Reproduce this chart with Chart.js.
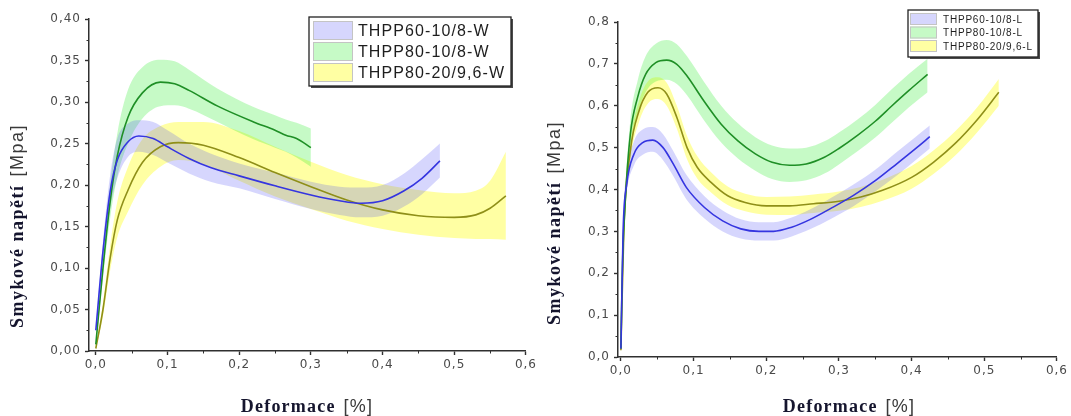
<!DOCTYPE html>
<html>
<head>
<meta charset="utf-8">
<script src="https://cdn.jsdelivr.net/npm/chart.js@4.4.1/dist/chart.umd.min.js"></script>
<style>
  html, body { margin: 0; padding: 0; background: #fff; }
  body { width: 1071px; height: 416px; position: relative; overflow: hidden; }
  canvas { position: absolute; top: 0; }
  #chartW { left: 0; }
  #chartL { left: 530px; }
</style>
</head>
<body>
<canvas id="chartW" width="540" height="416"></canvas>
<canvas id="chartL" width="541" height="416"></canvas>
<script>
// ---- left panel: W samples ----
const W_LABELS = ['THPP60-10/8-W', 'THPP80-10/8-W', 'THPP80-20/9,6-W'];

const W_BLUE_X     = [0, 0.01, 0.02, 0.03, 0.045, 0.06, 0.08, 0.1, 0.13, 0.16, 0.2, 0.25, 0.3, 0.34, 0.37, 0.4, 0.43, 0.455, 0.48];
const W_BLUE_MEAN  = [0.025, 0.12, 0.192, 0.23, 0.252, 0.259, 0.256, 0.246, 0.232, 0.221, 0.211, 0.199, 0.188, 0.181, 0.178, 0.181, 0.193, 0.208, 0.229];
const W_BLUE_UPPER = [0.028, 0.132, 0.212, 0.256, 0.274, 0.278, 0.276, 0.266, 0.25, 0.238, 0.226, 0.215, 0.204, 0.198, 0.197, 0.2, 0.214, 0.231, 0.25];
const W_BLUE_LOWER = [0.022, 0.108, 0.172, 0.208, 0.234, 0.24, 0.236, 0.227, 0.214, 0.204, 0.196, 0.183, 0.171, 0.164, 0.161, 0.163, 0.174, 0.189, 0.209];

const W_GREEN_X     = [0, 0.01, 0.02, 0.03, 0.045, 0.065, 0.09, 0.11, 0.13, 0.17, 0.22, 0.25, 0.265, 0.28, 0.3];
const W_GREEN_MEAN  = [0.008, 0.1, 0.18, 0.235, 0.282, 0.311, 0.324, 0.322, 0.314, 0.295, 0.276, 0.266, 0.26, 0.256, 0.245];
const W_GREEN_UPPER = [0.01, 0.112, 0.2, 0.262, 0.315, 0.342, 0.351, 0.349, 0.339, 0.316, 0.294, 0.284, 0.279, 0.275, 0.268];
const W_GREEN_LOWER = [0.006, 0.088, 0.16, 0.21, 0.25, 0.28, 0.295, 0.296, 0.292, 0.276, 0.255, 0.245, 0.24, 0.233, 0.222];

const W_YELLOW_X     = [0, 0.01, 0.02, 0.03, 0.045, 0.065, 0.09, 0.115, 0.15, 0.2, 0.25, 0.3, 0.35, 0.4, 0.45, 0.5, 0.53, 0.55, 0.572];
const W_YELLOW_MEAN  = [0.003, 0.05, 0.112, 0.158, 0.194, 0.227, 0.246, 0.251, 0.248, 0.233, 0.215, 0.198, 0.182, 0.17, 0.163, 0.161, 0.164, 0.172, 0.187];
const W_YELLOW_UPPER = [0.004, 0.058, 0.127, 0.18, 0.222, 0.255, 0.271, 0.276, 0.276, 0.265, 0.246, 0.228, 0.212, 0.201, 0.194, 0.19, 0.193, 0.205, 0.24];
const W_YELLOW_LOWER = [0.002, 0.042, 0.097, 0.137, 0.168, 0.2, 0.222, 0.23, 0.225, 0.205, 0.186, 0.171, 0.157, 0.147, 0.14, 0.136, 0.135, 0.135, 0.134];

// ---- right panel: L samples ----
const L_LABELS = ['THPP60-10/8-L', 'THPP80-10/8-L', 'THPP80-20/9,6-L'];

const L_BLUE_X     = [0, 0.003, 0.008, 0.018, 0.03, 0.044, 0.058, 0.072, 0.09, 0.115, 0.14, 0.165, 0.19, 0.21, 0.235, 0.26, 0.29, 0.32, 0.35, 0.38, 0.405, 0.425];
const L_BLUE_MEAN  = [0.02, 0.3, 0.413, 0.485, 0.512, 0.518, 0.5, 0.461, 0.405, 0.357, 0.325, 0.306, 0.3, 0.3, 0.31, 0.328, 0.356, 0.386, 0.421, 0.462, 0.497, 0.526];
const L_BLUE_UPPER = [0.025, 0.32, 0.44, 0.515, 0.543, 0.549, 0.532, 0.492, 0.435, 0.384, 0.35, 0.329, 0.322, 0.322, 0.333, 0.352, 0.381, 0.412, 0.447, 0.49, 0.525, 0.553];
const L_BLUE_LOWER = [0.015, 0.28, 0.39, 0.458, 0.483, 0.49, 0.47, 0.432, 0.377, 0.331, 0.3, 0.283, 0.278, 0.278, 0.288, 0.305, 0.331, 0.36, 0.395, 0.434, 0.469, 0.498];

const L_GREEN_X     = [0, 0.002, 0.006, 0.013, 0.023, 0.034, 0.048, 0.063, 0.077, 0.091, 0.114, 0.138, 0.161, 0.185, 0.208, 0.232, 0.255, 0.28, 0.3, 0.326, 0.35, 0.373, 0.396, 0.422];
const L_GREEN_MEAN  = [0.02, 0.21, 0.373, 0.532, 0.62, 0.675, 0.703, 0.709, 0.699, 0.671, 0.612, 0.556, 0.516, 0.485, 0.465, 0.458, 0.461, 0.477, 0.498, 0.53, 0.563, 0.6, 0.636, 0.675];
const L_GREEN_UPPER = [0.025, 0.23, 0.4, 0.565, 0.66, 0.718, 0.748, 0.757, 0.747, 0.718, 0.658, 0.6, 0.558, 0.525, 0.505, 0.498, 0.5, 0.515, 0.536, 0.568, 0.602, 0.64, 0.676, 0.712];
const L_GREEN_LOWER = [0.015, 0.19, 0.345, 0.5, 0.58, 0.632, 0.658, 0.662, 0.652, 0.625, 0.566, 0.512, 0.474, 0.445, 0.425, 0.418, 0.422, 0.438, 0.46, 0.492, 0.524, 0.56, 0.596, 0.632];

const L_YELLOW_X     = [0, 0.004, 0.013, 0.025, 0.037, 0.051, 0.063, 0.077, 0.091, 0.105, 0.124, 0.147, 0.171, 0.2, 0.232, 0.265, 0.3, 0.33, 0.36, 0.4, 0.43, 0.46, 0.49, 0.52];
const L_YELLOW_MEAN  = [0.016, 0.3, 0.493, 0.588, 0.632, 0.643, 0.628, 0.572, 0.5, 0.453, 0.417, 0.385, 0.369, 0.361, 0.361, 0.366, 0.372, 0.382, 0.398, 0.429, 0.465, 0.51, 0.566, 0.632];
const L_YELLOW_UPPER = [0.02, 0.32, 0.515, 0.612, 0.658, 0.668, 0.655, 0.6, 0.528, 0.48, 0.441, 0.407, 0.39, 0.382, 0.383, 0.388, 0.395, 0.406, 0.423, 0.456, 0.493, 0.539, 0.596, 0.664];
const L_YELLOW_LOWER = [0.012, 0.28, 0.47, 0.562, 0.605, 0.616, 0.6, 0.545, 0.472, 0.426, 0.393, 0.363, 0.348, 0.34, 0.339, 0.344, 0.349, 0.358, 0.373, 0.402, 0.437, 0.481, 0.536, 0.6];

// colours
const LINE_COLORS = ['#3535e0', '#1f8f26', '#8f8f18'];
const BAND_COLORS = ['rgba(70, 70, 245, 0.22)', 'rgba(45, 235, 45, 0.27)', 'rgba(255, 255, 0, 0.36)'];

const TICK_FONT = { family: 'DejaVu Sans', size: 12 };
const AXIS_COLOR = '#303030';

function isMajor(v, step) {
    return Math.abs(v / step - Math.round(v / step)) < 1e-6;
}

// upper + lower bound filled between, then the mean line on top
function bandSets(label, xs, mean, upper, lower, i) {
    const pts = arr => xs.map((x, k) => ({ x: x, y: arr[k] }));
    return [
        { data: pts(upper), fill: '+1', backgroundColor: BAND_COLORS[i], borderWidth: 0, pointRadius: 0 },
        { data: pts(lower), fill: false, borderWidth: 0, pointRadius: 0 },
        { label: label, data: pts(mean), borderColor: LINE_COLORS[i], borderWidth: 1.6,
          pointRadius: 0, fill: false, bandColor: BAND_COLORS[i] }
    ];
}

function makeScales(o) {
    // minor ticks are hidden here and drawn shorter by the minorTicks plugin
    const tickColY = c => (c.tick && isMajor(c.tick.value, o.major) ? AXIS_COLOR : 'rgba(0,0,0,0)');
    const tickColX = c => (c.tick && isMajor(c.tick.value, 0.1) ? AXIS_COLOR : 'rgba(0,0,0,0)');
    return {
        x: {
            type: 'linear', min: o.xMin, max: 0.6,
            ticks: {
                stepSize: 0.05, includeBounds: false, autoSkip: false, maxRotation: 0,
                padding: 3, color: '#4a4a4a', font: TICK_FONT,
                callback: v => isMajor(v, 0.1) ? v.toFixed(1).replace('.', ',') : ''
            },
            grid: { drawOnChartArea: false, tickLength: 4, tickColor: tickColX, tickWidth: 1.4 },
            border: { color: AXIS_COLOR, width: 1.5 },
            afterFit: s => { s.height = o.xH; }
        },
        y: {
            type: 'linear', min: 0, max: o.yMax,
            ticks: {
                stepSize: o.major / 2, includeBounds: false, autoSkip: false,
                padding: 4, color: '#4a4a4a', font: TICK_FONT,
                callback: v => isMajor(v, o.major) ? v.toFixed(o.dec).replace('.', ',') : ''
            },
            grid: { drawOnChartArea: false, tickLength: 4, tickColor: tickColY, tickWidth: 1.4 },
            border: { color: AXIS_COLOR, width: 1.5 },
            afterFit: s => { s.width = o.yW; }
        }
    };
}

// spaced-out text like the original export
const spacing = {
    id: 'spacing',
    beforeLayout(chart) { chart.ctx.letterSpacing = '1px'; },
    beforeDraw(chart) { chart.ctx.letterSpacing = '1px'; }
};

const minorTicks = {
    id: 'minorTicks',
    afterDraw(chart, args, o) {
        const ctx = chart.ctx;
        const xs = chart.scales.x, ys = chart.scales.y;
        const area = chart.chartArea;
        ctx.save();
        ctx.strokeStyle = AXIS_COLOR;
        ctx.lineWidth = 1;
        ctx.beginPath();
        xs.ticks.forEach(t => {
            if (isMajor(t.value, 0.1)) return;
            const px = Math.round(xs.getPixelForValue(t.value)) + 0.5;
            ctx.moveTo(px, area.bottom);
            ctx.lineTo(px, area.bottom + 2.5);
        });
        ys.ticks.forEach(t => {
            if (isMajor(t.value, o.major)) return;
            const py = Math.round(ys.getPixelForValue(t.value)) + 0.5;
            ctx.moveTo(area.left, py);
            ctx.lineTo(area.left - 2.5, py);
        });
        ctx.stroke();
        ctx.restore();
    }
};

function drawParts(ctx, parts, cx, cy, angle) {
    ctx.save();
    ctx.translate(cx, cy);
    ctx.rotate(angle);
    ctx.textBaseline = 'middle';
    ctx.textAlign = 'left';
    const widths = parts.map(p => {
        ctx.font = p.font;
        ctx.letterSpacing = p.spacing;
        return ctx.measureText(p.text).width;
    });
    const gap = 8;
    const total = widths.reduce((a, b) => a + b, 0) + gap * (parts.length - 1);
    let x = -total / 2;
    parts.forEach((p, i) => {
        ctx.font = p.font;
        ctx.letterSpacing = p.spacing;
        ctx.fillStyle = p.color;
        ctx.fillText(p.text, x, 0);
        x += widths[i] + gap;
    });
    ctx.restore();
}

const TITLE_BOLD = 'bold 18px "Liberation Serif"';
const TITLE_UNIT = '18px "Liberation Sans"';

const axisTitles = {
    id: 'axisTitles',
    afterDraw(chart, args, opts) {
        const ctx = chart.ctx;
        drawParts(ctx, [
            { text: 'Deformace', font: TITLE_BOLD, color: '#15152e', spacing: '1.2px' },
            { text: '[%]', font: TITLE_UNIT, color: '#3a3a3a', spacing: '1.2px' }
        ], opts.xCx, opts.xCy, 0);
        drawParts(ctx, [
            { text: 'Smykové napětí', font: TITLE_BOLD, color: '#15152e', spacing: '1.5px' },
            { text: '[Mpa]', font: TITLE_UNIT, color: '#3a3a3a', spacing: '1.5px' }
        ], opts.yCx, opts.yCy, -Math.PI / 2);
    }
};

// Origin-style boxed legend with drop shadow
const legendBox = {
    id: 'legendBox',
    afterDraw(chart, args, o) {
        const ctx = chart.ctx;
        const items = chart.data.datasets.filter(d => d.label);
        ctx.save();
        ctx.letterSpacing = o.spacing;
        ctx.fillStyle = '#4a4a4a';
        ctx.fillRect(o.x + 2, o.y + 2, o.w, o.h);
        ctx.fillStyle = '#fff';
        ctx.fillRect(o.x, o.y, o.w, o.h);
        ctx.strokeStyle = '#222';
        ctx.lineWidth = 1.3;
        ctx.strokeRect(o.x, o.y, o.w, o.h);
        ctx.font = o.font;
        ctx.textBaseline = 'middle';
        ctx.textAlign = 'left';
        items.forEach((d, i) => {
            const top = o.rowTop + i * o.pitch;
            ctx.fillStyle = d.bandColor;
            ctx.fillRect(o.swX, top, o.swW, o.swH);
            ctx.strokeStyle = '#c4c4c4';
            ctx.lineWidth = 1;
            ctx.strokeRect(o.swX + 0.5, top + 0.5, o.swW - 1, o.swH - 1);
            ctx.fillStyle = '#1e1e1e';
            ctx.fillText(d.label, o.textX, top + o.swH / 2 + 1);
        });
        ctx.restore();
    }
};

function buildChart(id, datasets, scaleOpts, pad, titleOpts, legendOpts) {
    return new Chart(document.getElementById(id), {
        type: 'line',
        data: { datasets: datasets },
        options: {
            responsive: false,
            animation: false,
            devicePixelRatio: 1,
            layout: { padding: pad },
            elements: { line: { cubicInterpolationMode: 'monotone' } },
            scales: makeScales(scaleOpts),
            plugins: {
                legend: { display: false },
                tooltip: { enabled: false },
                filler: { drawTime: 'beforeDatasetsDraw' },
                minorTicks: { major: scaleOpts.major },
                axisTitles: titleOpts,
                legendBox: legendOpts
            }
        },
        plugins: [spacing, minorTicks, axisTitles, legendBox]
    });
}

const wSets = [].concat(
    bandSets(W_LABELS[0], W_BLUE_X, W_BLUE_MEAN, W_BLUE_UPPER, W_BLUE_LOWER, 0),
    bandSets(W_LABELS[1], W_GREEN_X, W_GREEN_MEAN, W_GREEN_UPPER, W_GREEN_LOWER, 1),
    bandSets(W_LABELS[2], W_YELLOW_X, W_YELLOW_MEAN, W_YELLOW_UPPER, W_YELLOW_LOWER, 2)
);

const lSets = [].concat(
    bandSets(L_LABELS[0], L_BLUE_X, L_BLUE_MEAN, L_BLUE_UPPER, L_BLUE_LOWER, 0),
    bandSets(L_LABELS[1], L_GREEN_X, L_GREEN_MEAN, L_GREEN_UPPER, L_GREEN_LOWER, 1),
    bandSets(L_LABELS[2], L_YELLOW_X, L_YELLOW_MEAN, L_YELLOW_UPPER, L_YELLOW_LOWER, 2)
);

buildChart('chartW', wSets,
    { xMin: -0.0095, yMax: 0.4, major: 0.05, dec: 2, xH: 65, yW: 89 },
    { left: 0, right: 14, top: 19, bottom: 0 },
    { xCx: 307, xCy: 407, yCx: 18, yCy: 226 },
    { x: 309, y: 17, w: 202, h: 69, swX: 313, swW: 40, swH: 19, rowTop: 21, pitch: 21,
      textX: 358, font: '16px "Liberation Sans"', spacing: '1.1px' });

buildChart('chartL', lSets,
    { xMin: -0.004, yMax: 0.8, major: 0.1, dec: 1, xH: 59, yW: 88 },
    { left: 0, right: 13, top: 22, bottom: 0 },
    { xCx: 319, xCy: 407, yCx: 25, yCy: 223 },
    { x: 378, y: 10, w: 130, h: 47, swX: 380, swW: 27, swH: 12, rowTop: 13, pitch: 13.5,
      textX: 413, font: '10px "Liberation Sans"', spacing: '0.8px' });
</script>
</body>
</html>
